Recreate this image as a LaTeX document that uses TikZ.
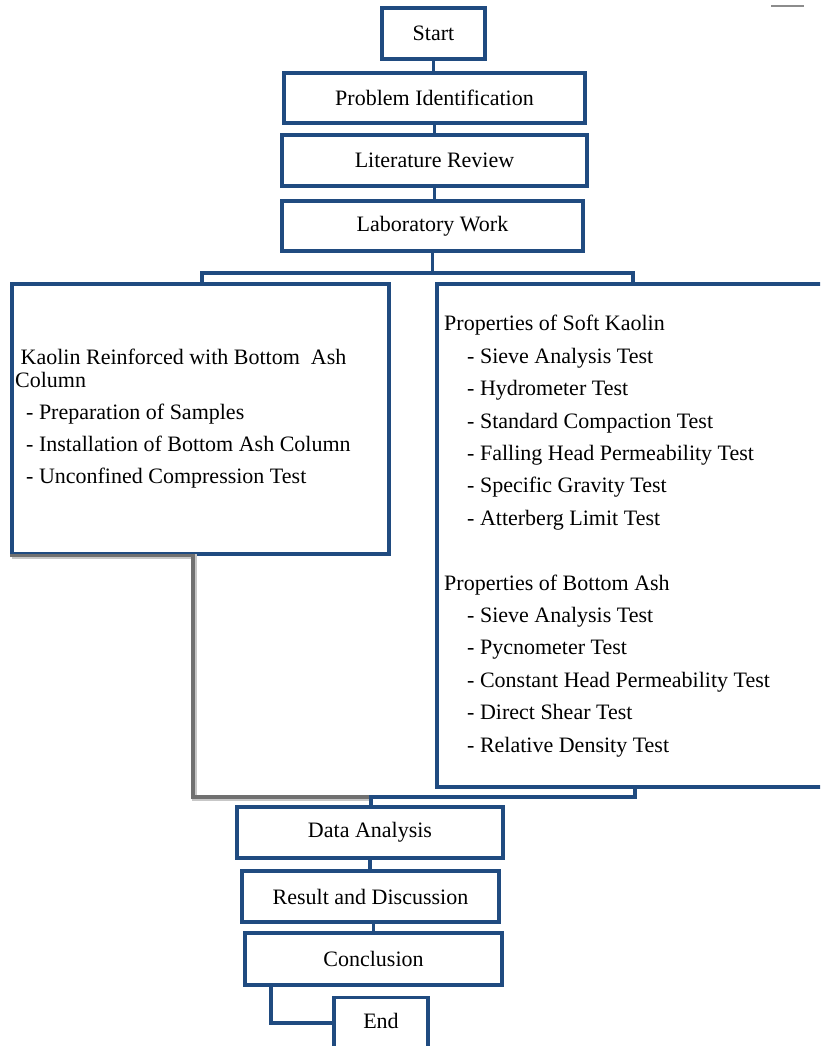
\documentclass[tikz,border=0pt]{standalone}
\usepackage{fontspec}
\setmainfont{Liberation Serif}
\definecolor{fblue}{RGB}{32,75,128}
\definecolor{fgray}{RGB}{112,112,112}
\begin{document}
\begin{tikzpicture}[x=1pt,y=-1pt,
  box/.style={draw=fblue, line width=3.1pt, rectangle, inner sep=0pt, font=\fontsize{22}{26}\selectfont},
  conn/.style={draw=fblue, line width=3.1pt},
  gconn/.style={draw=fgray, line width=3.1pt},
  gshadow/.style={draw=black!22, line width=5pt},
  txt/.style={inner sep=0pt, align=left, anchor=base west}]
\useasboundingbox (0,0) rectangle (820,1046);
\fill[white] (0,0) rectangle (820,1046);
\clip (0,0) rectangle (820,1046);

% boxes
\node[box, minimum width=103pt, minimum height=51pt] (start) at (433.5,33.5) {Start};
\node[box, minimum width=301pt, minimum height=50pt] (prob) at (434.5,98) {Problem Identification};
\node[box, minimum width=305pt, minimum height=51pt] (lit) at (434.5,160.5) {Literature Review};
\node[box, minimum width=301pt, minimum height=50pt] (lab) at (432.5,226) {Laboratory Work};
\node[box, minimum width=377pt, minimum height=270pt] (lbox) at (200.5,419) {};
\node[box, minimum width=408pt, minimum height=503pt] (rbox) at (641,535.5) {};
\node[box, minimum width=266pt, minimum height=51pt] (data) at (370,832.5) {Data Analysis};
\node[box, minimum width=257pt, minimum height=51pt] (res) at (370.5,896.5) {Result and Discussion};
\node[box, minimum width=257pt, minimum height=52pt] (conc) at (373.5,959) {Conclusion};
\node[box, minimum width=94pt, minimum height=70pt, anchor=north] (end) at (381,996) {};
\node[font=\fontsize{22}{26}\selectfont, inner sep=0pt] (endtxt) at (381,1021) {End};

% box texts (anchor = baseline of last line)
\node[txt, font=\fontsize{22}{23}\selectfont] (ltext) at (15,483)
  {\hspace*{5.5pt}Kaolin Reinforced with Bottom\ \ Ash\\
   Column\\[9pt]
   \hspace*{11pt}- Preparation of Samples\\[9pt]
   \hspace*{11pt}- Installation of Bottom Ash Column\\[9pt]
   \hspace*{11pt}- Unconfined Compression Test};
\node[txt, font=\fontsize{22}{32.4}\selectfont] (rtext) at (444,752)
  {Properties of Soft Kaolin\\
   \hspace*{23pt}- Sieve Analysis Test\\
   \hspace*{23pt}- Hydrometer Test\\
   \hspace*{23pt}- Standard Compaction Test\\
   \hspace*{23pt}- Falling Head Permeability Test\\
   \hspace*{23pt}- Specific Gravity Test\\
   \hspace*{23pt}- Atterberg Limit Test\\[32.4pt]
   Properties of Bottom Ash\\
   \hspace*{23pt}- Sieve Analysis Test\\
   \hspace*{23pt}- Pycnometer Test\\
   \hspace*{23pt}- Constant Head Permeability Test\\
   \hspace*{23pt}- Direct Shear Test\\
   \hspace*{23pt}- Relative Density Test};

% connector points
\coordinate (bl) at (202,273);
\coordinate (br) at (633,273);
\coordinate (jl) at (193,797);
\coordinate (jm) at (371,797);
\coordinate (jr) at (635,797);
\coordinate (ce) at (271,1023);

% connectors
\draw[conn] (start.south) -- (start.south |- prob.north);
\draw[conn] (prob.south) -- (prob.south |- lit.north);
\draw[conn] (lit.south) -- (lit.south |- lab.north);
\draw[conn] (lab.south) -- (lab.south |- bl);
\draw[conn] (lbox.north -| bl) -- (bl) -- (br) -- (rbox.north -| br);

\draw[gshadow, transform canvas={shift={(1.2pt,-1.2pt)}}] (lbox.south west) -- (lbox.south -| jl) -- (jl) -- (jm);
\draw[gconn] (lbox.south west) -- (lbox.south -| jl) -- (jl) -- (jm);
\draw[conn] (rbox.south -| jr) -- (jr) -- (jm) -- (data.north -| jm);

\draw[conn] (data.south) -- (data.south |- res.north);
\draw[conn] (conc.north |- res.south) -- (conc.north);
\draw[conn] (conc.south -| ce) -- (ce) -- (ce -| end.west);

% small mark at top right
\draw[black!45, line width=2pt] (771,6) -- (804,6);
\end{tikzpicture}
\end{document}
